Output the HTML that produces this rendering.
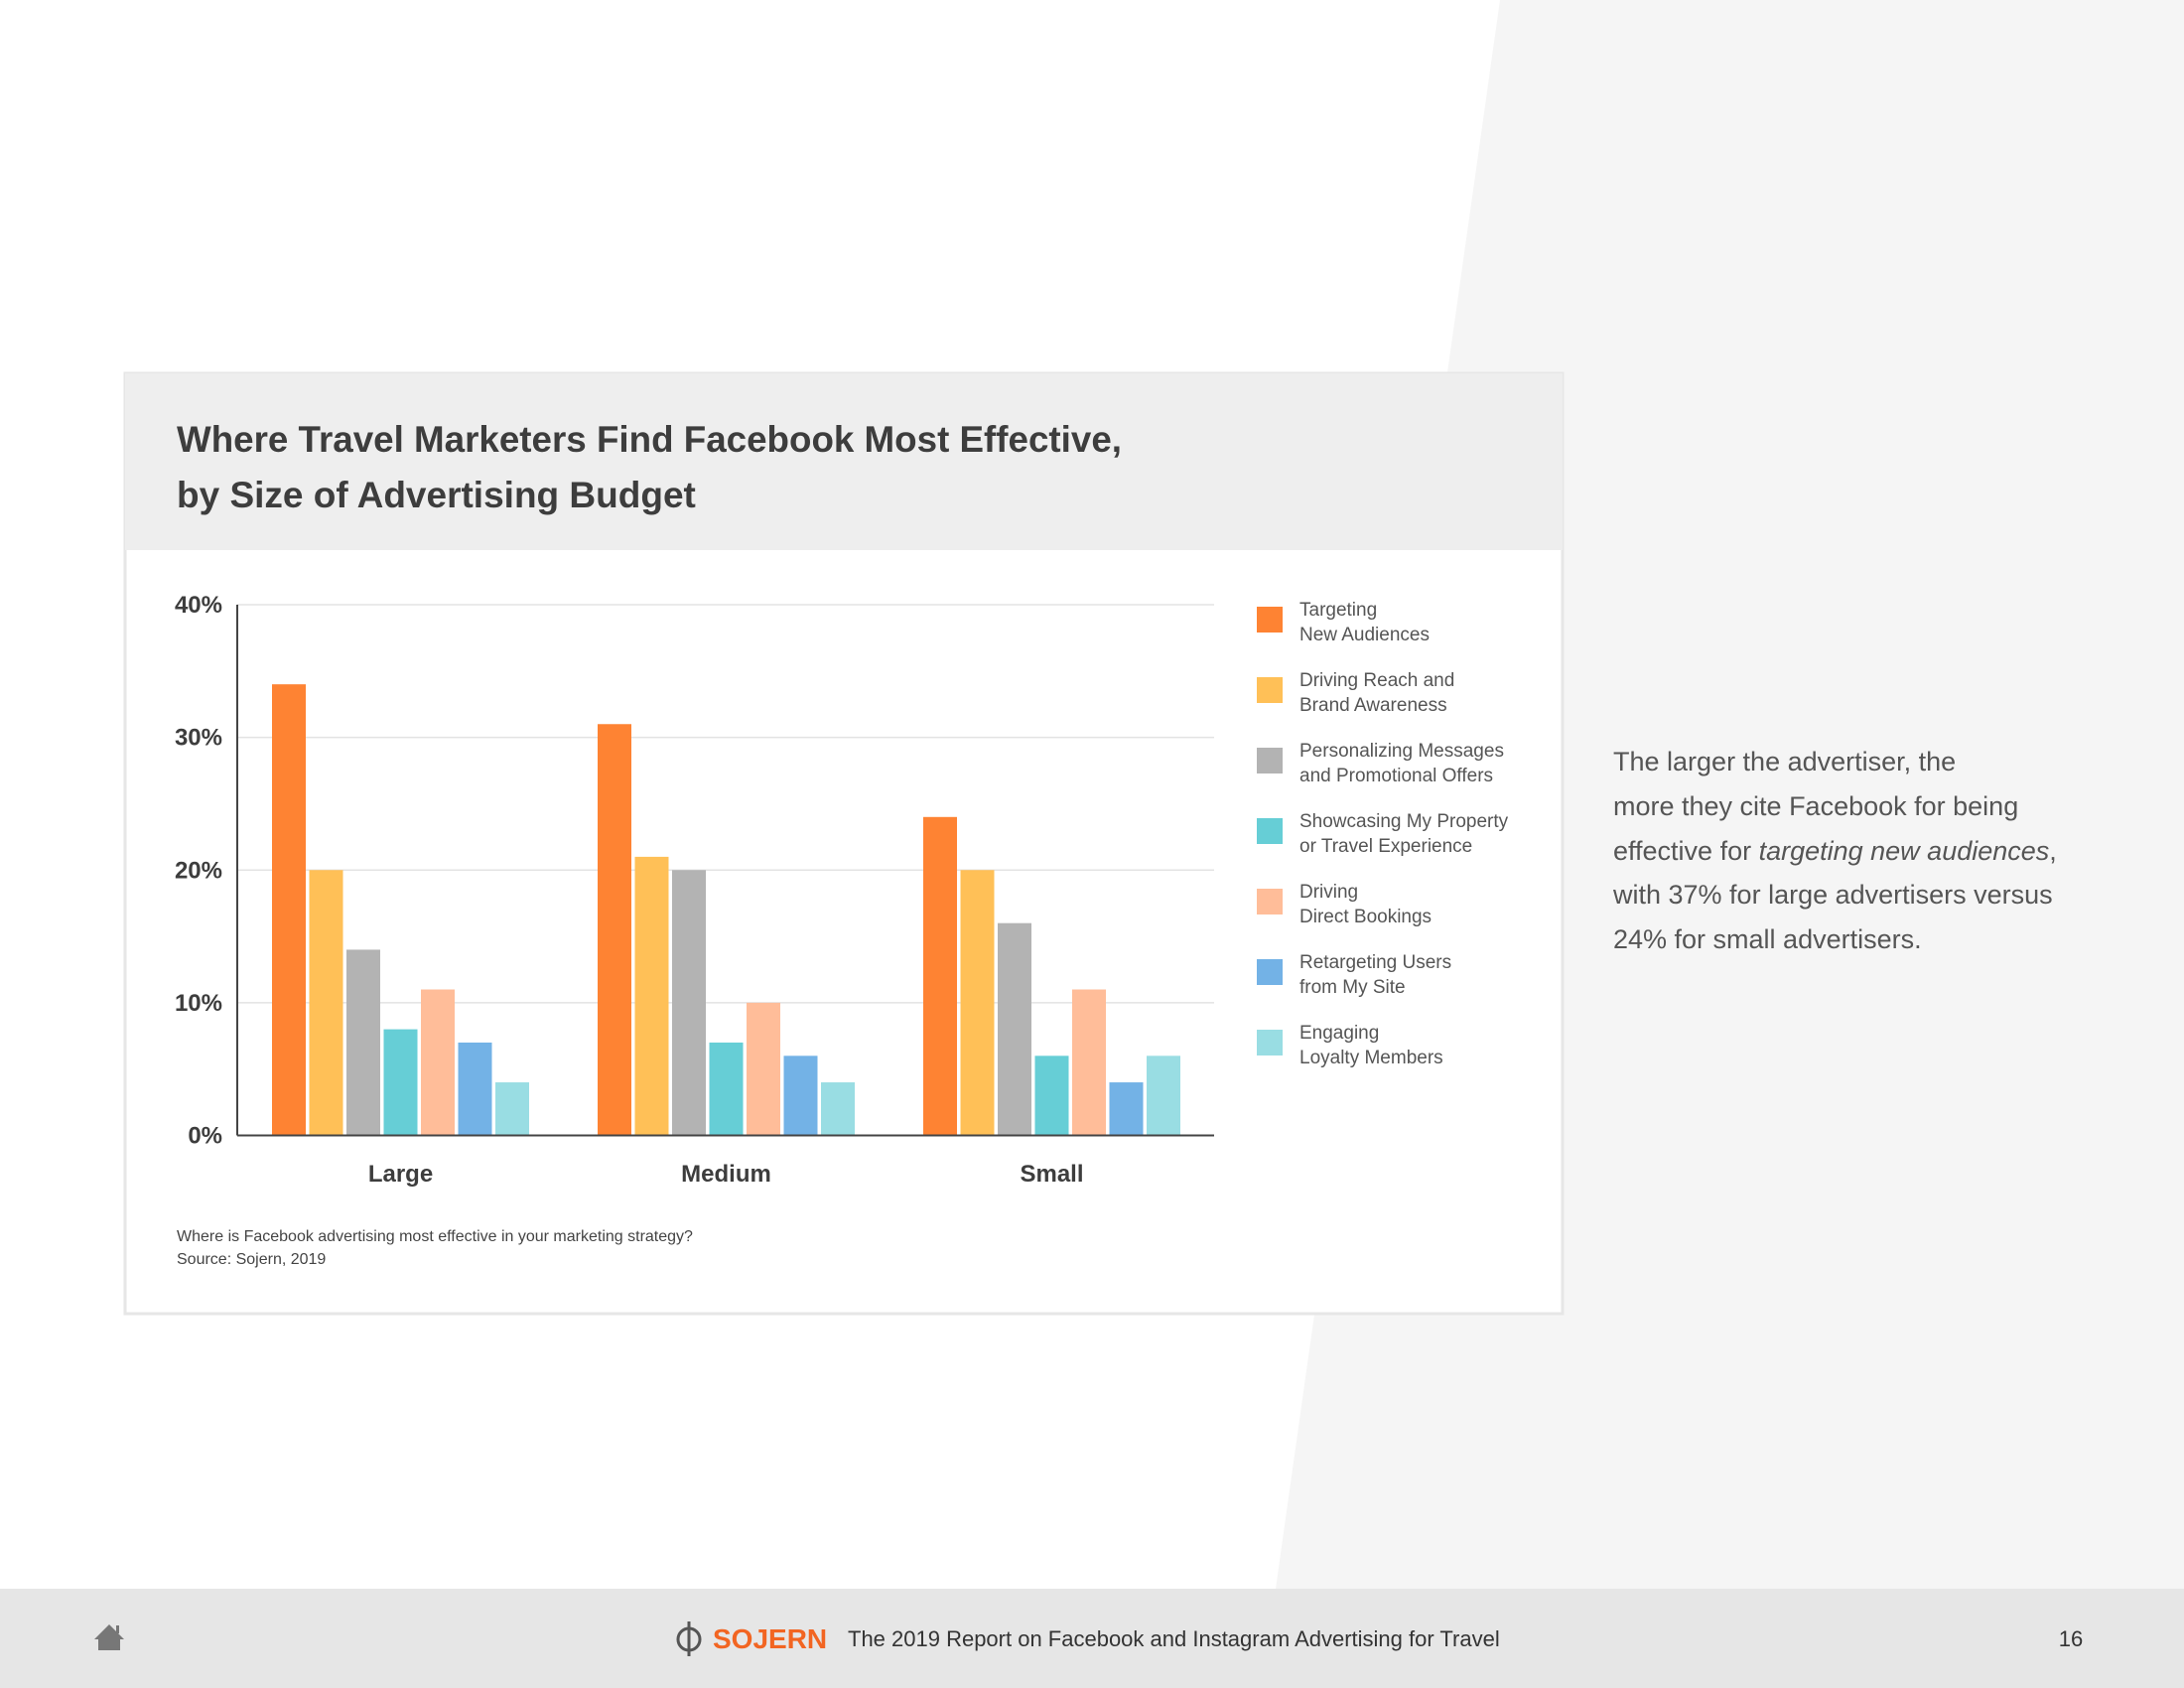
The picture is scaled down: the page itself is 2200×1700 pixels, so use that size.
<!DOCTYPE html>
<html><head><meta charset="utf-8">
<style>
html,body{margin:0;padding:0;width:2200px;height:1700px;overflow:hidden;background:#fff;font-family:"Liberation Sans",sans-serif;}
svg{display:block}
</style></head>
<body>
<svg id="page" width="2200" height="1700" viewBox="0 0 2200 1700" xmlns="http://www.w3.org/2000/svg">
  <rect x="0" y="0" width="2200" height="1700" fill="#ffffff"/>
  <polygon points="1511,0 2200,0 2200,1600 1285,1600" fill="#f5f5f5"/>
  <g>
    <rect x="126" y="376" width="1448" height="947" fill="#ffffff" stroke="#e6e6e6" stroke-width="3"/>
    <rect x="126" y="376" width="1448" height="178" fill="#eeeeee"/>
    <text x="178" y="455" font-size="37" font-weight="bold" fill="#3d3d3d" textLength="952" lengthAdjust="spacingAndGlyphs">Where Travel Marketers Find Facebook Most Effective,</text>
    <text x="178" y="511" font-size="37" font-weight="bold" fill="#3d3d3d">by Size of Advertising Budget</text>
    <g id="plot"></g>
    <g id="legend"></g>
    <text x="178" y="1250" font-size="16" fill="#444">Where is Facebook advertising most effective in your marketing strategy?</text>
    <text x="178" y="1273" font-size="16" fill="#444">Source: Sojern, 2019</text>
  </g>
  <g font-size="27" fill="#555" font-weight="300">
    <text x="1625" y="776">The larger the advertiser, the</text>
    <text x="1625" y="821">more they cite Facebook for being</text>
    <text x="1625" y="866">effective for <tspan font-style="italic">targeting new audiences</tspan>,</text>
    <text x="1625" y="910">with 37% for large advertisers versus</text>
    <text x="1625" y="955">24% for small advertisers.</text>
  </g>
  <g>
    <rect x="0" y="1600" width="2200" height="100" fill="#e6e6e6"/>
    <g fill="#777">
      <polygon points="110,1636 95,1651 99,1651 99,1662 121,1662 121,1651 125,1651"/>
      <rect x="117" y="1637" width="3" height="8"/>
    </g>
    <g>
      <circle cx="694" cy="1651" r="11" fill="none" stroke="#555" stroke-width="3"/>
      <line x1="694" y1="1633" x2="694" y2="1668" stroke="#555" stroke-width="3"/>
      <text x="718" y="1660" font-size="28" font-weight="bold" fill="#f26522">SOJERN</text>
    </g>
    <text x="854" y="1658" font-size="22" fill="#333">The 2019 Report on Facebook and Instagram Advertising for Travel</text>
    <text x="2086" y="1658" font-size="22" fill="#333" text-anchor="middle">16</text>
  </g>
</svg>
<script>
const categories = ["Large", "Medium", "Small"];
const seriesNames = ["Targeting New Audiences", "Driving Reach and Brand Awareness", "Personalizing Messages and Promotional Offers", "Showcasing My Property or Travel Experience", "Driving Direct Bookings", "Retargeting Users from My Site", "Engaging Loyalty Members"];
const legendLines = [["Targeting","New Audiences"],["Driving Reach and","Brand Awareness"],["Personalizing Messages","and Promotional Offers"],["Showcasing My Property","or Travel Experience"],["Driving","Direct Bookings"],["Retargeting Users","from My Site"],["Engaging","Loyalty Members"]];
const targetingNew = [34, 31, 24];
const drivingReach = [20, 21, 20];
const personalizing = [14, 20, 16];
const showcasing = [8, 7, 6];
const directBookings = [11, 10, 11];
const retargeting = [7, 6, 4];
const loyalty = [4, 4, 6];
const yTicks = [0, 10, 20, 30, 40];
const yTickLabels = ["0%", "10%", "20%", "30%", "40%"];

const series = [targetingNew, drivingReach, personalizing, showcasing, directBookings, retargeting, loyalty];
const colors = ["#fe8333", "#ffc057", "#b3b3b3", "#66ced6", "#ffbd99", "#73b2e6", "#99dde3"];
const NS = "http://www.w3.org/2000/svg";
const X0 = 239, X1 = 1223, Y0 = 1143.5, Y40 = 609;
const yScale = v => Y0 - (v / 40) * (Y0 - Y40);
const groupStep = 328, groupStart = X0 + 35, barStep = 37.5, barW = 34;
const xScale = (c, s) => groupStart + c * groupStep + s * barStep;
function mk(tag, attrs, parent) { const e = document.createElementNS(NS, tag); for (const k in attrs) e.setAttribute(k, attrs[k]); parent.appendChild(e); return e; }
const plot = document.getElementById("plot");
yTicks.forEach((t, i) => {
  const y = yScale(t);
  if (t > 0) {
    const g = mk("line", {x1: X0, x2: X1, y1: y, y2: y, stroke: "#e3e3e3", "stroke-width": 1.5}, plot);
    
    
  }
  const l = mk("text", {x: 224, y: y + 8, "font-size": 24, "font-weight": "bold", fill: "#3d3d3d", "text-anchor": "end"}, plot);
  l.textContent = yTickLabels[i];
  
  
});
series.forEach((vals, s) => {
  vals.forEach((v, c) => {
    const r = mk("rect", {x: xScale(c, s), y: yScale(v), width: barW, height: Y0 - yScale(v), fill: colors[s]}, plot);
    
    
  });
});
const yax = mk("line", {x1: X0, x2: X0, y1: Y40, y2: Y0, stroke: "#444", "stroke-width": 2}, plot);


const xax = mk("line", {x1: X0, x2: X1, y1: Y0, y2: Y0, stroke: "#444", "stroke-width": 2}, plot);


categories.forEach((cat, c) => {
  const cx = xScale(c, 0) + (6 * barStep + barW) / 2;
  const t = mk("text", {x: cx, y: 1190, "font-size": 24, "font-weight": "bold", fill: "#3d3d3d", "text-anchor": "middle"}, plot);
  t.textContent = cat;
  
  
});
const legend = document.getElementById("legend");
seriesNames.forEach((n, i) => {
  const y = 610 + i * 71;
  const g = mk("g", {}, legend);
  
  
  mk("rect", {x: 1266, y: y + 1, width: 26, height: 26, fill: colors[i]}, g);
  legendLines[i].forEach((ln, j) => {
    const t = mk("text", {x: 1309, y: y + 10 + j * 25, "font-size": 19, fill: "#555"}, g);
    t.textContent = ln;
  });
});
</script>
</body></html>
